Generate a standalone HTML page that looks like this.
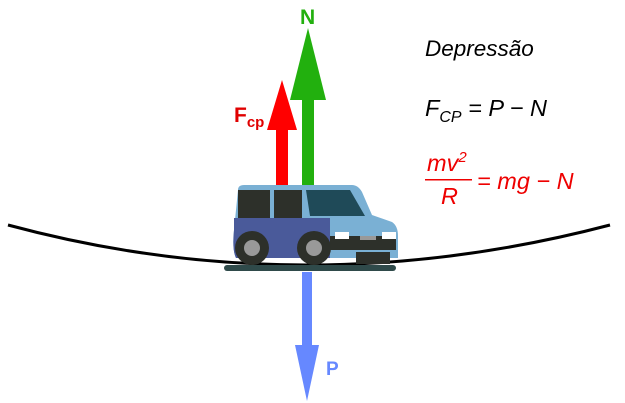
<!DOCTYPE html>
<html><head><meta charset="utf-8"><style>
html,body{margin:0;padding:0;background:#fff;width:625px;height:403px;overflow:hidden}
text{font-family:"Liberation Sans",sans-serif}
</style></head><body>
<svg width="625" height="403" viewBox="0 0 625 403">
<path d="M8,225 Q305,305 610,225" fill="none" stroke="#000" stroke-width="3"/>
<g>
<rect x="302" y="98" width="12" height="88" fill="#22b00e"/>
<polygon points="308,28 290,100 326,100" fill="#22b00e"/>
</g>
<text x="300" y="24" font-size="21" font-weight="bold" fill="#22b00e">N</text>
<g>
<rect x="276" y="128" width="12" height="58" fill="#ff0000"/>
<polygon points="282,80 267,130 297,130" fill="#ff0000"/>
</g>
<text x="234" y="122" font-size="21" font-weight="bold" fill="#e00000">F<tspan font-size="15" dy="5">cp</tspan></text>
<g>
<rect x="302" y="272" width="10" height="76" fill="#6688ff"/>
<polygon points="307,401 295,345 319,345" fill="#6688ff"/>
</g>
<text x="326" y="375" font-size="19" font-weight="bold" fill="#6688ff">P</text>
<g>
<rect x="224" y="265" width="172" height="6" rx="3" fill="#2f4a4a"/>
<path d="M238,190 Q238,185 244,185 L352,185 Q358,185 362,192 L372,215 L392,222 Q398,226 398,236 L398,258 L236,258 Q232,250 234,230 Z" fill="#7ab0d4"/>
<path d="M234,218 L330,218 L330,258 L236,258 Q232,250 234,230 Z" fill="#4a5a9a"/>
<rect x="238" y="190" width="32" height="28" fill="#2d302a"/>
<rect x="274" y="190" width="28" height="28" fill="#2d302a"/>
<path d="M306,190 L350,190 L365,216 L310,216 Z" fill="#1f4a58"/>
<rect x="330" y="236" width="66" height="14" fill="#2d302a"/>
<rect x="335" y="232" width="14" height="7" fill="#fff"/>
<rect x="382" y="232" width="14" height="7" fill="#fff"/>
<rect x="360" y="236" width="16" height="4" fill="#999"/>
<circle cx="252" cy="248" r="17" fill="#2d302a"/>
<circle cx="252" cy="248" r="8" fill="#999"/>
<circle cx="314" cy="248" r="17" fill="#2d302a"/>
<circle cx="314" cy="248" r="8" fill="#999"/>
<rect x="356" y="252" width="34" height="12" fill="#2d302a"/>
</g>
<text x="425" y="56" font-size="22.5" font-style="italic" fill="#000">Depressão</text>
<text x="425" y="116" font-size="23.5" font-style="italic" fill="#000">F<tspan font-size="16" dy="6">CP</tspan><tspan dy="-6"> = P − N</tspan></text>
<g fill="#ee0000">
<text x="427" y="171" font-size="23.5" font-style="italic">mv<tspan font-size="15" dy="-9">2</tspan></text>
<rect x="425" y="179" width="47" height="1.5"/>
<text x="441" y="204" font-size="23.5" font-style="italic">R</text>
<text x="477" y="189" font-size="23.5" font-style="italic">= mg − N</text>
</g>
</svg>
</body></html>
